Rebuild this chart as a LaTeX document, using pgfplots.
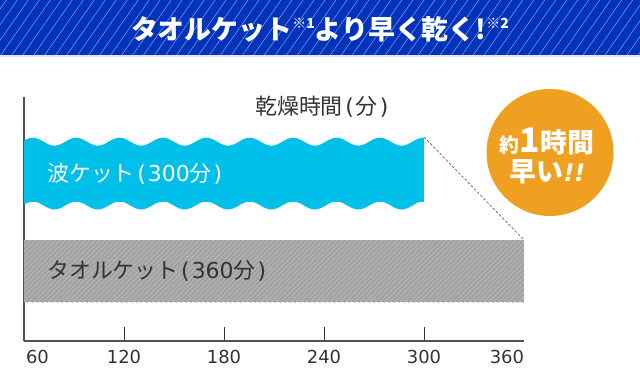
\documentclass[border=0pt]{standalone}
\usepackage{pgfplots}
\pgfplotsset{compat=1.18}
\usepackage{pgfplotstable}
\usepackage{fontspec}
\setmainfont{Noto Sans CJK JP}
\newfontfamily\dejavu{DejaVu Sans}
\usetikzlibrary{patterns.meta,decorations.pathmorphing}
\definecolor{bannerblue}{HTML}{0033BB}
\definecolor{wavecyan}{HTML}{00BFE8}
\definecolor{bargray}{HTML}{A3A1A2}
\definecolor{hatch}{HTML}{BAB8B9}
\definecolor{circorange}{HTML}{F0A020}
\definecolor{txt}{HTML}{333333}
\newcommand\lp{\kern2.5bp{\dejavu(}\kern2bp}
\newcommand\rp{\kern2bp{\dejavu)}}

% drying time (minutes) and bar centre (axis units)
\pgfplotstableread{
y value
70 360
167.4 300
}\bars

\begin{document}
\begin{tikzpicture}[x=1bp,y=1bp]
\useasboundingbox (0,0) rectangle (640,370);
\fill[white] (0,0) rectangle (640,370);
% banner
\fill[bannerblue] (0,315) rectangle (640,370);
\fill[pattern={Lines[angle=55,distance=9bp,line width=0.5bp]},pattern color=white!55!bannerblue] (0,315) rectangle (640,370);
\fill[bannerblue!12] (0,313) rectangle (640,315);
\node[white,font=\bfseries\fontsize{27}{30}\selectfont,inner sep=0] at (320,341)
 {タオルケット\raisebox{0.7ex}{\fontsize{14}{14}\selectfont ※1}より早く乾く!\raisebox{0.7ex}{\fontsize{14}{14}\selectfont ※2}};

\pgfplotstablegetelem{1}{value}\of\bars \let\waveval\pgfplotsretval
\pgfplotstablegetelem{0}{value}\of\bars \let\grayval\pgfplotsretval

\begin{axis}[at={(24bp,29bp)}, anchor=south west, scale only axis,
  width=500bp, height=244bp,
  xmin=60, xmax=360, ymin=0, ymax=244,
  axis lines*=left,
  axis line style={draw=txt!85, line width=1.1bp},
  xtick={120,180,240,300}, xticklabels={120,180,240,300},
  extra x ticks={60,360},
  extra x tick labels={\makebox[0pt][l]{\hspace{2bp}60},\makebox[0pt][r]{360}},
  extra x tick style={major tick length=0pt},
  ytick=\empty,
  tick align=inside, major tick length=14bp,
  tick style={draw=txt, line width=0.9bp},
  xticklabel style={font=\dejavu\fontsize{18}{20}\selectfont, text=txt, yshift=-6bp},
]
\addplot[xbar, bar shift=0pt, bar width=62, fill=bargray, draw=none,
  postaction={pattern={Lines[angle=45,distance=3.5bp,line width=0.8bp]},pattern color=hatch},
  skip coords between index={1}{2}] table[x=value,y=y] {\bars};
\addplot[xbar, bar shift=0pt, bar width=55.8, fill=wavecyan, draw=none,
  skip coords between index={0}{1}] table[x=value,y=y] {\bars};
\begin{scope}
\clip (axis cs:60,0) rectangle (axis cs:\waveval,244);
\fill[wavecyan] (axis cs:57.09,193) -- (axis cs:57.09,199.3)
  decorate[decoration={snake,segment length=43.4bp,amplitude=4bp}] {-- (axis cs:330,199.3)}
  -- (axis cs:330,193) -- cycle;
\fill[wavecyan] (axis cs:57.09,142) -- (axis cs:57.09,135.5)
  decorate[decoration={snake,segment length=43.4bp,amplitude=4bp}] {-- (axis cs:330,135.5)}
  -- (axis cs:330,142) -- cycle;
\end{scope}
\draw[gray!75!black, line width=0.7bp, dash pattern=on 2.5bp off 2bp]
  (axis cs:\waveval,204) -- (axis cs:\grayval,101);
\end{axis}

\node[txt,font=\fontsize{22}{24}\selectfont,inner sep=0,anchor=west] at (255,263) {乾燥時間\lp 分\rp};
\node[white,font=\fontsize{22}{24}\selectfont,inner sep=0,anchor=west] at (47,196) {波ケット\lp{\dejavu 300}分\rp};
\node[txt,font=\fontsize{22}{24}\selectfont,inner sep=0,anchor=west] at (47,99) {タオルケット\lp{\dejavu 360}分\rp};

% badge
\fill[circorange] (550,217.5) circle (63.5);
\node[white,font=\bfseries,inner sep=0] at (547,229)
 {{\fontsize{20}{20}\selectfont 約}{\fontsize{34}{34}\selectfont 1}{\fontsize{27}{27}\selectfont 時間}};
\node[white,font=\bfseries,inner sep=0] at (547.5,198)
 {{\fontsize{27}{27}\selectfont 早い}{\dejavu\bfseries\itshape\fontsize{24}{24}\selectfont !!}};
\end{tikzpicture}
\end{document}
